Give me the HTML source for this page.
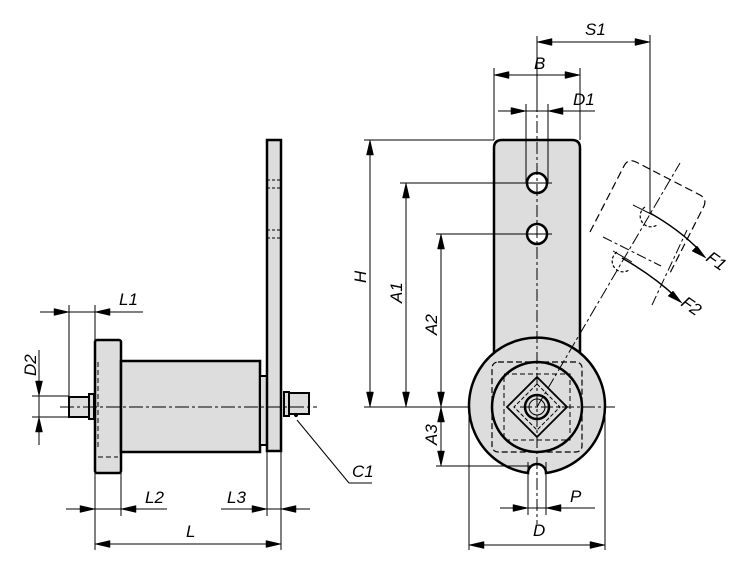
<!DOCTYPE html>
<html><head><meta charset="utf-8"><style>
html,body{margin:0;padding:0;background:#fff;}
svg{display:block;}
text{font-family:"Liberation Sans",sans-serif;font-style:italic;font-size:17px;fill:#000;}
</style></head><body>
<svg width="750" height="566" viewBox="0 0 750 566" xmlns="http://www.w3.org/2000/svg">
<g stroke="#000" fill="none">
<rect x="95" y="340" width="26" height="133" fill="#ddd" stroke-width="2.5" rx="2"/>
<rect x="121" y="361" width="139" height="91" fill="#ddd" stroke-width="2.5"/>
<rect x="260" y="376" width="7" height="69" fill="#ddd" stroke-width="2"/>
<rect x="267" y="140" width="14" height="311" fill="#ddd" stroke-width="2.5"/>
<line x1="98" y1="362" x2="98" y2="450" stroke-dasharray="5,3" stroke-width="1"/>
<line x1="98" y1="457" x2="118" y2="457" stroke-dasharray="5,3" stroke-width="1"/>
<line x1="267" y1="180" x2="281" y2="180" stroke-dasharray="3,2" stroke-width="1"/>
<line x1="267" y1="188" x2="281" y2="188" stroke-dasharray="3,2" stroke-width="1"/>
<line x1="267" y1="230" x2="281" y2="230" stroke-dasharray="3,2" stroke-width="1"/>
<line x1="267" y1="238" x2="281" y2="238" stroke-dasharray="3,2" stroke-width="1"/>
<rect x="69" y="397" width="20" height="20" fill="#ddd" stroke-width="2"/>
<rect x="89" y="394" width="5" height="25" fill="#ddd" stroke-width="2"/>
<rect x="284" y="392" width="5" height="24" fill="#ddd" stroke-width="2"/>
<rect x="289" y="393" width="20" height="21" fill="#ddd" stroke-width="2"/>
<circle cx="296" cy="415" r="1.6" fill="#000"/>
<line x1="60" y1="407" x2="317" y2="407" stroke-dasharray="14,3,3,3" stroke-width="1"/>
<g stroke-width="1">
<line x1="69" y1="305" x2="69" y2="396"/><line x1="95" y1="305" x2="95" y2="340"/>
<line x1="40" y1="312" x2="143" y2="312"/>
<line x1="32" y1="396" x2="69" y2="396"/><line x1="32" y1="417" x2="69" y2="417"/>
<line x1="39" y1="350" x2="39" y2="445"/>
<line x1="95" y1="473" x2="95" y2="550"/><line x1="121" y1="452" x2="121" y2="516"/>
<line x1="66" y1="509" x2="167" y2="509"/>
<line x1="267" y1="451" x2="267" y2="516"/><line x1="281" y1="451" x2="281" y2="550"/>
<line x1="221" y1="509" x2="310" y2="509"/>
<line x1="95" y1="544" x2="281" y2="544"/>
<line x1="297" y1="420" x2="349" y2="483"/><line x1="349" y1="483" x2="372" y2="483"/>
</g>
<path d="M494,455 L494,148 Q494,140 502,140 L572,140 Q580,140 580,148 L580,455z" fill="#ddd" stroke-width="2.5"/>
<path d="M528,473 A68,68 0 1 1 546,473 A9,9 0 0 0 528,473z" fill="#ddd" stroke-width="2.5"/>
<circle cx="537" cy="407" r="45" fill="#ddd" stroke-width="2.5"/>
<rect x="492" y="362" width="90" height="90" rx="6" stroke-dasharray="6,3" stroke-width="1.2"/>
<rect x="504" y="374" width="66" height="66" stroke-dasharray="5,3" stroke-width="1"/>
<path d="M537,377 L567,407 L537,437 L507,407z" stroke-width="1.8"/>
<path d="M537,384 L560,407 L537,430 L514,407z" stroke-dasharray="4,2" stroke-width="1"/>
<circle cx="537" cy="407" r="12" fill="#ddd" stroke-width="2.5"/>
<circle cx="537" cy="407" r="8" stroke-width="1"/>
<circle cx="537" cy="183" r="10" fill="#fff" stroke-width="2.5"/>
<circle cx="537" cy="234" r="10" fill="#fff" stroke-width="2.5"/>
<line x1="537" y1="100" x2="537" y2="524" stroke-dasharray="12,3,3,3" stroke-width="1"/>
<line x1="524" y1="183" x2="552" y2="183" stroke-width="1"/><line x1="524" y1="234" x2="552" y2="234" stroke-width="1"/>
<line x1="520" y1="407" x2="615" y2="407" stroke-dasharray="12,3,3,3" stroke-width="1"/>
<line x1="537" y1="407" x2="680" y2="163" stroke-dasharray="12,3,3,3" stroke-width="1"/>
<path d="M590,232 L624,166 Q628,158 636,162 L700,195 Q707,199 704,206 L670,273" stroke-dasharray="8,4" stroke-width="1.2"/>
<path d="M603,237 L661,266 M652,305 L687,230" stroke-dasharray="10,3,3,3" stroke-width="1"/>
<path d="M633,205 L653,215 M613,251 L632,262" stroke-width="1"/>
<path d="M645,207 A10,10 0 1 0 657,225" stroke-dasharray="3,2" stroke-width="1.2"/>
<path d="M617,252 A10,10 0 1 0 629,270" stroke-dasharray="3,2" stroke-width="1.2"/>
<path d="M650,213 Q680,230 700,251" stroke-width="1.5"/>
<path d="M622,258 Q652,275 676,297" stroke-width="1.5"/>
<g stroke-width="1">
<line x1="364" y1="140" x2="494" y2="140"/><line x1="364" y1="407" x2="470" y2="407"/>
<line x1="370" y1="140" x2="370" y2="407"/>
<line x1="400" y1="183" x2="527" y2="183"/><line x1="436" y1="234" x2="527" y2="234"/>
<line x1="406" y1="183" x2="406" y2="407"/>
<line x1="441" y1="234" x2="441" y2="466"/>
<line x1="436" y1="466" x2="530" y2="466"/>
<line x1="494" y1="68" x2="494" y2="140"/><line x1="580" y1="68" x2="580" y2="140"/>
<line x1="494" y1="75" x2="580" y2="75"/>
<line x1="526" y1="104" x2="526" y2="183"/><line x1="548" y1="104" x2="548" y2="183"/>
<line x1="498" y1="111" x2="595" y2="111"/>
<line x1="537" y1="36" x2="537" y2="100"/><line x1="650" y1="35" x2="650" y2="213"/>
<line x1="537" y1="42" x2="650" y2="42"/>
<line x1="469" y1="407" x2="469" y2="550"/><line x1="605" y1="407" x2="605" y2="550"/>
<line x1="469" y1="545" x2="605" y2="545"/>
<line x1="528" y1="462" x2="528" y2="515"/><line x1="546" y1="462" x2="546" y2="515"/>
<line x1="500" y1="508" x2="595" y2="508"/>
</g>
</g>
<g fill="#000" stroke="#000" stroke-width="0.5">
<path d="M69,312 L54,308.5 L54,315.5Z"/>
<path d="M95,312 L110,308.5 L110,315.5Z"/>
<path d="M39,396 L35.5,381 L42.5,381Z"/>
<path d="M39,417 L35.5,432 L42.5,432Z"/>
<path d="M95,509 L80,505.5 L80,512.5Z"/>
<path d="M121,509 L136,505.5 L136,512.5Z"/>
<path d="M267,509 L252,505.5 L252,512.5Z"/>
<path d="M281,509 L296,505.5 L296,512.5Z"/>
<path d="M95,544 L110,540.5 L110,547.5Z"/>
<path d="M281,544 L266,540.5 L266,547.5Z"/>
<path d="M370,140 L366.5,155 L373.5,155Z"/>
<path d="M370,407 L366.5,392 L373.5,392Z"/>
<path d="M406,183 L402.5,198 L409.5,198Z"/>
<path d="M406,407 L402.5,392 L409.5,392Z"/>
<path d="M441,234 L437.5,249 L444.5,249Z"/>
<path d="M441,407 L437.5,392 L444.5,392Z"/>
<path d="M441,407 L437.5,422 L444.5,422Z"/>
<path d="M441,466 L437.5,451 L444.5,451Z"/>
<path d="M494,75 L509,71.5 L509,78.5Z"/>
<path d="M580,75 L565,71.5 L565,78.5Z"/>
<path d="M526,111 L511,107.5 L511,114.5Z"/>
<path d="M548,111 L563,107.5 L563,114.5Z"/>
<path d="M537,42 L552,38.5 L552,45.5Z"/>
<path d="M650,42 L635,38.5 L635,45.5Z"/>
<path d="M469,545 L484,541.5 L484,548.5Z"/>
<path d="M605,545 L590,541.5 L590,548.5Z"/>
<path d="M528,508 L513,504.5 L513,511.5Z"/>
<path d="M546,508 L561,504.5 L561,511.5Z"/>
<path d="M706,258 L692,251 L697,246Z"/>
<path d="M682,303 L668,296 L673,291Z"/>
</g>
<text x="119" y="305">L1</text>
<text x="36" y="376" transform="rotate(-90 36 376)">D2</text>
<text x="145" y="503">L2</text>
<text x="227" y="503">L3</text>
<text x="186" y="537">L</text>
<text x="352" y="477">C1</text>
<text x="366" y="283" transform="rotate(-90 366 283)">H</text>
<text x="402" y="303" transform="rotate(-90 402 303)">A1</text>
<text x="437" y="335" transform="rotate(-90 437 335)">A2</text>
<text x="437" y="445" transform="rotate(-90 437 445)">A3</text>
<text x="534" y="69">B</text>
<text x="573" y="105">D1</text>
<text x="585" y="35">S1</text>
<text x="570" y="502">P</text>
<text x="533" y="536">D</text>
<text x="705" y="260" transform="rotate(35 705 260)">F1</text>
<text x="680" y="305" transform="rotate(35 680 305)">F2</text>
</svg>
</body></html>
